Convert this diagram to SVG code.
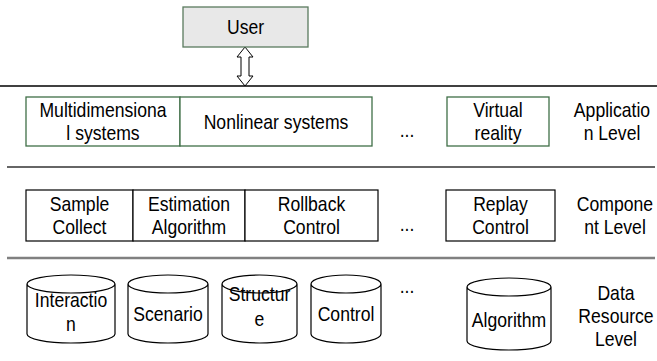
<svg xmlns="http://www.w3.org/2000/svg" width="657" height="361" viewBox="0 0 657 361">
<style>
text{font-family:"Liberation Sans",Arial,sans-serif;font-size:20px;fill:#000;text-anchor:middle}
.app{fill:#fff;stroke:#3f6f47;stroke-width:1.3}
.cmp{fill:#fff;stroke:#000;stroke-width:1.2}
.cyl{fill:#fff;stroke:#000;stroke-width:1.2}
</style>
<g id="connectors">
<line x1="0" y1="86" x2="657" y2="86" stroke="#000" stroke-width="1.5"/>
<line x1="7" y1="167" x2="655" y2="167" stroke="#333" stroke-width="1.5"/>
<line x1="7" y1="258" x2="655" y2="258" stroke="#808080" stroke-width="2.5"/>
<path id="arrow" d="M245,47 L253,57 L249,57 L249,76 L253,76 L245,86 L237,76 L241,76 L241,57 L237,57 Z" fill="#fff" stroke="#000" stroke-width="1"/>
</g>
<g id="user"><rect x="183" y="7" width="125" height="40" fill="#e8e8e8" stroke="#5a7a5e" stroke-width="1.3"/><text transform="translate(245.5,34) scale(0.88,1)">User</text></g>
<g id="multidim"><rect class="app" x="26" y="97" width="154" height="49"/><text transform="translate(103,117) scale(0.88,1)">Multidimensiona</text><text transform="translate(103,140) scale(0.88,1)">l systems</text></g>
<g id="nonlinear"><rect class="app" x="180" y="97" width="192" height="49"/><text transform="translate(276,129) scale(0.88,1)">Nonlinear systems</text></g>
<g id="dots1"><text transform="translate(407,137) scale(0.88,1)">...</text></g>
<g id="virtual"><rect class="app" x="447" y="97" width="102" height="49"/><text transform="translate(498,117) scale(0.88,1)">Virtual</text><text transform="translate(498,140) scale(0.88,1)">reality</text></g>
<g id="applevel"><text transform="translate(612,117) scale(0.88,1)">Applicatio</text><text transform="translate(612,140) scale(0.88,1)">n Level</text></g>
<g id="sample"><rect class="cmp" x="26" y="190" width="107" height="51"/><text transform="translate(79.5,211) scale(0.88,1)">Sample</text><text transform="translate(79.5,234) scale(0.88,1)">Collect</text></g>
<g id="estimation"><rect class="cmp" x="133" y="190" width="112" height="51"/><text transform="translate(189,211) scale(0.88,1)">Estimation</text><text transform="translate(189,234) scale(0.88,1)">Algorithm</text></g>
<g id="rollback"><rect class="cmp" x="245" y="190" width="133" height="51"/><text transform="translate(311.5,211) scale(0.88,1)">Rollback</text><text transform="translate(311.5,234) scale(0.88,1)">Control</text></g>
<g id="dots2"><text transform="translate(407,231) scale(0.88,1)">...</text></g>
<g id="replay"><rect class="cmp" x="446" y="190" width="109" height="51"/><text transform="translate(500.5,211) scale(0.88,1)">Replay</text><text transform="translate(500.5,234) scale(0.88,1)">Control</text></g>
<g id="complevel"><text transform="translate(615,211) scale(0.88,1)">Compone</text><text transform="translate(615,234) scale(0.88,1)">nt Level</text></g>
<g id="interaction"><path class="cyl" d="M27,284 A44,9 0 0 1 115,284 L115,334 A44,9 0 0 1 27,334 Z M27,284 A44,9 0 0 0 115,284"/><text transform="translate(71,307) scale(0.88,1)">Interactio</text><text transform="translate(71,331) scale(0.88,1)">n</text></g>
<g id="scenario"><path class="cyl" d="M128,284 A40,9 0 0 1 208,284 L208,334 A40,9 0 0 1 128,334 Z M128,284 A40,9 0 0 0 208,284"/><text transform="translate(168,321) scale(0.88,1)">Scenario</text></g>
<g id="structure"><path class="cyl" d="M222,284 A37.5,9 0 0 1 297,284 L297,334 A37.5,9 0 0 1 222,334 Z M222,284 A37.5,9 0 0 0 297,284"/><text transform="translate(259.5,301) scale(0.88,1)">Structur</text><text transform="translate(259.5,326) scale(0.88,1)">e</text></g>
<g id="control"><path class="cyl" d="M311,284 A35,9 0 0 1 381,284 L381,334 A35,9 0 0 1 311,334 Z M311,284 A35,9 0 0 0 381,284"/><text transform="translate(346,321) scale(0.88,1)">Control</text></g>
<g id="dots3"><text transform="translate(407,293) scale(0.88,1)">...</text></g>
<g id="algorithm"><path class="cyl" d="M467,287 A42,9 0 0 1 551,287 L551,341 A42,9 0 0 1 467,341 Z M467,287 A42,9 0 0 0 551,287"/><text transform="translate(509,327) scale(0.88,1)">Algorithm</text></g>
<g id="datalevel"><text transform="translate(616,300) scale(0.88,1)">Data</text><text transform="translate(616,323) scale(0.88,1)">Resource</text><text transform="translate(616,346) scale(0.88,1)">Level</text></g>
</svg>
